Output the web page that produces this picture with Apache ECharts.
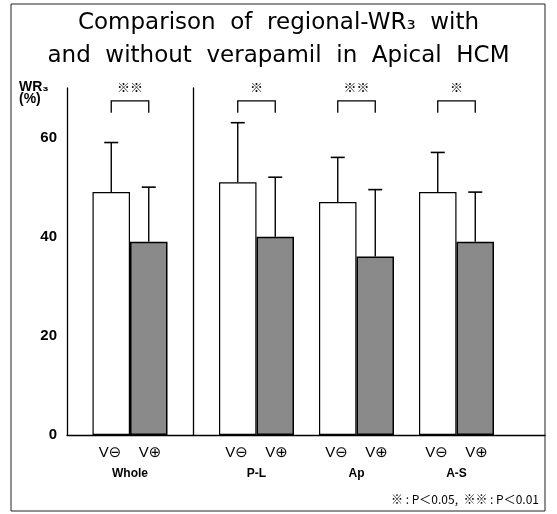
<!DOCTYPE html>
<html>
<head>
<meta charset="utf-8">
<script src="https://cdn.jsdelivr.net/npm/echarts@6/dist/echarts.min.js"></script>
<style>html,body{margin:0;padding:0;background:#fff;}#c{width:557px;height:514px;}</style>
</head>
<body>
<div id="c"></div>
<script>
// ---- data ----
const groups = ['Whole', 'P-L', 'Ap', 'A-S'];
const vMinusMean = [49, 51, 47, 49];   // V(-) white bars
const vMinusSD   = [10, 12, 9, 8];
const vPlusMean  = [39, 40, 36, 39];   // V(+) grey bars
const vPlusSD    = [11, 12, 13.5, 10];
const sigMarks   = ['※※', '※', '※※', '※'];
const yTickLabels = [0, 20, 40, 60];
const condLabels = ['V⊖', 'V⊕'];
const titleLines = ['Comparison  of  regional-WR₃  with', 'and  without  verapamil  in  Apical  HCM'];
const yName = ['WR₃', '(%)'];
const footnote = '※ : P＜0.05,  ※※ : P＜0.01';

// ---- styling constants ----
const BAR_W = 37.5;
const Y_MAX = 70;
const BRACKET_TOP = 67.4;
const BRACKET_LEG = 65;
const FONT = '"Liberation Sans", "DejaVu Sans", Arial, sans-serif';

const chart = echarts.init(document.getElementById('c'), null, {renderer: 'canvas'});

function catLabel(name) {
  return '{a|' + condLabels[0] + '}{b|' + condLabels[1] + '}\n{c|' + name + '}';
}
const richLab = {
  a: {width: 40, align: 'center', fontSize: 15, lineHeight: 21, fontFamily: FONT, color: '#000'},
  b: {width: 40, align: 'center', fontSize: 15, lineHeight: 21, fontFamily: FONT, color: '#000'},
  c: {align: 'center', fontSize: 12, fontWeight: 'bold', lineHeight: 21, fontFamily: FONT, color: '#000'}
};

function errRender(sign) {
  return function (params, api) {
    const cat = api.value(0), mean = api.value(1), sd = api.value(2);
    const base = api.coord([cat, mean]);
    const top = api.coord([cat, mean + sd]);
    const x = base[0] + sign * BAR_W / 2;
    return {
      type: 'group',
      children: [
        {type: 'line', shape: {x1: x, y1: base[1], x2: x, y2: top[1]}, style: {stroke: '#000', lineWidth: 1.4}},
        {type: 'line', shape: {x1: x - 7, y1: top[1], x2: x + 7, y2: top[1]}, style: {stroke: '#000', lineWidth: 1.6}}
      ]
    };
  };
}
function bracketRender(marks) {
  return function (params, api) {
    const cat = api.value(0);
    const c = api.coord([cat, BRACKET_TOP]);
    const leg = api.coord([cat, BRACKET_LEG]);
    const xl = c[0] - BAR_W / 2, xr = c[0] + BAR_W / 2;
    return {
      type: 'group',
      children: [
        {type: 'polyline', shape: {points: [[xl, leg[1]], [xl, c[1]], [xr, c[1]], [xr, leg[1]]]},
         style: {stroke: '#000', lineWidth: 1.3, fill: null}},
        {type: 'text', style: {text: marks[params.dataIndex], x: c[0], y: c[1] - 14, align: 'center', verticalAlign: 'middle',
          fontSize: 13, fontWeight: 'bold', fontFamily: '"Noto Sans CJK JP", sans-serif', fill: '#111'}}
      ]
    };
  };
}

const firstIdx = [0];
const restIdx = [1, 2, 3];

const yAxisBase = {
  type: 'value', min: 0, max: Y_MAX, interval: 20,
  splitLine: {show: false}, axisTick: {show: false},
  axisLine: {show: true, lineStyle: {color: '#000', width: 1.3}}
};

const option = {
  animation: false,
  backgroundColor: '#fff',
  title: [
    {text: titleLines.join('\n'), left: 'center', top: 2,
     textStyle: {fontSize: 23, fontWeight: 'normal', lineHeight: 33, fontFamily: '"DejaVu Sans", sans-serif', color: '#000'}},
    {text: yName.join('\n'), left: 14, top: 76,
     textStyle: {fontSize: 14, fontWeight: 'bold', lineHeight: 12, fontFamily: FONT, color: '#000'}},
    {text: footnote, right: 13, top: 488,
     textStyle: {fontSize: 12, fontWeight: 'normal', fontFamily: '"Noto Sans CJK JP", sans-serif', color: '#000'}}
  ],
  graphic: [
    {type: 'rect', shape: {x: 11, y: 4, width: 534, height: 507}, style: {fill: null, stroke: '#222', lineWidth: 1}, silent: true}
  ],
  grid: [
    {left: 67, top: 88, width: 126, height: 347},
    {left: 193, top: 88, width: 352, height: 347},
    {left: 206.5, top: 88, width: 300, height: 347}
  ],
  xAxis: [
    {type: 'category', gridIndex: 0, data: firstIdx.map(i => groups[i]),
     axisLine: {show: true, lineStyle: {color: '#000', width: 1.3}}, axisTick: {show: false},
     axisLabel: {margin: 7, formatter: catLabel, rich: richLab}},
    {type: 'category', gridIndex: 1, data: [''],
     axisLine: {show: true, lineStyle: {color: '#000', width: 1.3}}, axisTick: {show: false}, axisLabel: {show: false}},
    {type: 'category', gridIndex: 2, data: restIdx.map(i => groups[i]),
     axisLine: {show: false}, axisTick: {show: false},
     axisLabel: {margin: 7, formatter: catLabel, rich: richLab}}
  ],
  yAxis: [
    Object.assign({}, yAxisBase, {gridIndex: 0,
      axisLabel: {margin: 10, fontSize: 15, fontWeight: 'bold', fontFamily: FONT, color: '#000',
        formatter: v => (yTickLabels.indexOf(v) >= 0 ? String(v) : '')}}),
    Object.assign({}, yAxisBase, {gridIndex: 1, axisLabel: {show: false}}),
    Object.assign({}, yAxisBase, {gridIndex: 2, axisLine: {show: false}, axisLabel: {show: false}})
  ],
  series: [
    {type: 'bar', xAxisIndex: 0, yAxisIndex: 0, barWidth: BAR_W, barGap: '0%',
     data: firstIdx.map(i => vMinusMean[i]), itemStyle: {color: '#fff', borderColor: '#000', borderWidth: 1.2}},
    {type: 'bar', xAxisIndex: 0, yAxisIndex: 0, barWidth: BAR_W, barGap: '0%',
     data: firstIdx.map(i => vPlusMean[i]), itemStyle: {color: '#8a8a8a', borderColor: '#000', borderWidth: 1.5}},
    {type: 'bar', xAxisIndex: 2, yAxisIndex: 2, barWidth: BAR_W, barGap: '0%',
     data: restIdx.map(i => vMinusMean[i]), itemStyle: {color: '#fff', borderColor: '#000', borderWidth: 1.2}},
    {type: 'bar', xAxisIndex: 2, yAxisIndex: 2, barWidth: BAR_W, barGap: '0%',
     data: restIdx.map(i => vPlusMean[i]), itemStyle: {color: '#8a8a8a', borderColor: '#000', borderWidth: 1.5}},
    {type: 'custom', xAxisIndex: 0, yAxisIndex: 0, renderItem: errRender(-1), z: 5,
     data: firstIdx.map((i, k) => [k, vMinusMean[i], vMinusSD[i]])},
    {type: 'custom', xAxisIndex: 0, yAxisIndex: 0, renderItem: errRender(1), z: 5,
     data: firstIdx.map((i, k) => [k, vPlusMean[i], vPlusSD[i]])},
    {type: 'custom', xAxisIndex: 2, yAxisIndex: 2, renderItem: errRender(-1), z: 5,
     data: restIdx.map((i, k) => [k, vMinusMean[i], vMinusSD[i]])},
    {type: 'custom', xAxisIndex: 2, yAxisIndex: 2, renderItem: errRender(1), z: 5,
     data: restIdx.map((i, k) => [k, vPlusMean[i], vPlusSD[i]])},
    {type: 'custom', xAxisIndex: 0, yAxisIndex: 0, renderItem: bracketRender(firstIdx.map(i => sigMarks[i])), z: 5,
     data: firstIdx.map((i, k) => [k, 0])},
    {type: 'custom', xAxisIndex: 2, yAxisIndex: 2, renderItem: bracketRender(restIdx.map(i => sigMarks[i])), z: 5,
     data: restIdx.map((i, k) => [k, 0])}
  ]
};
chart.setOption(option);
</script>
</body>
</html>
